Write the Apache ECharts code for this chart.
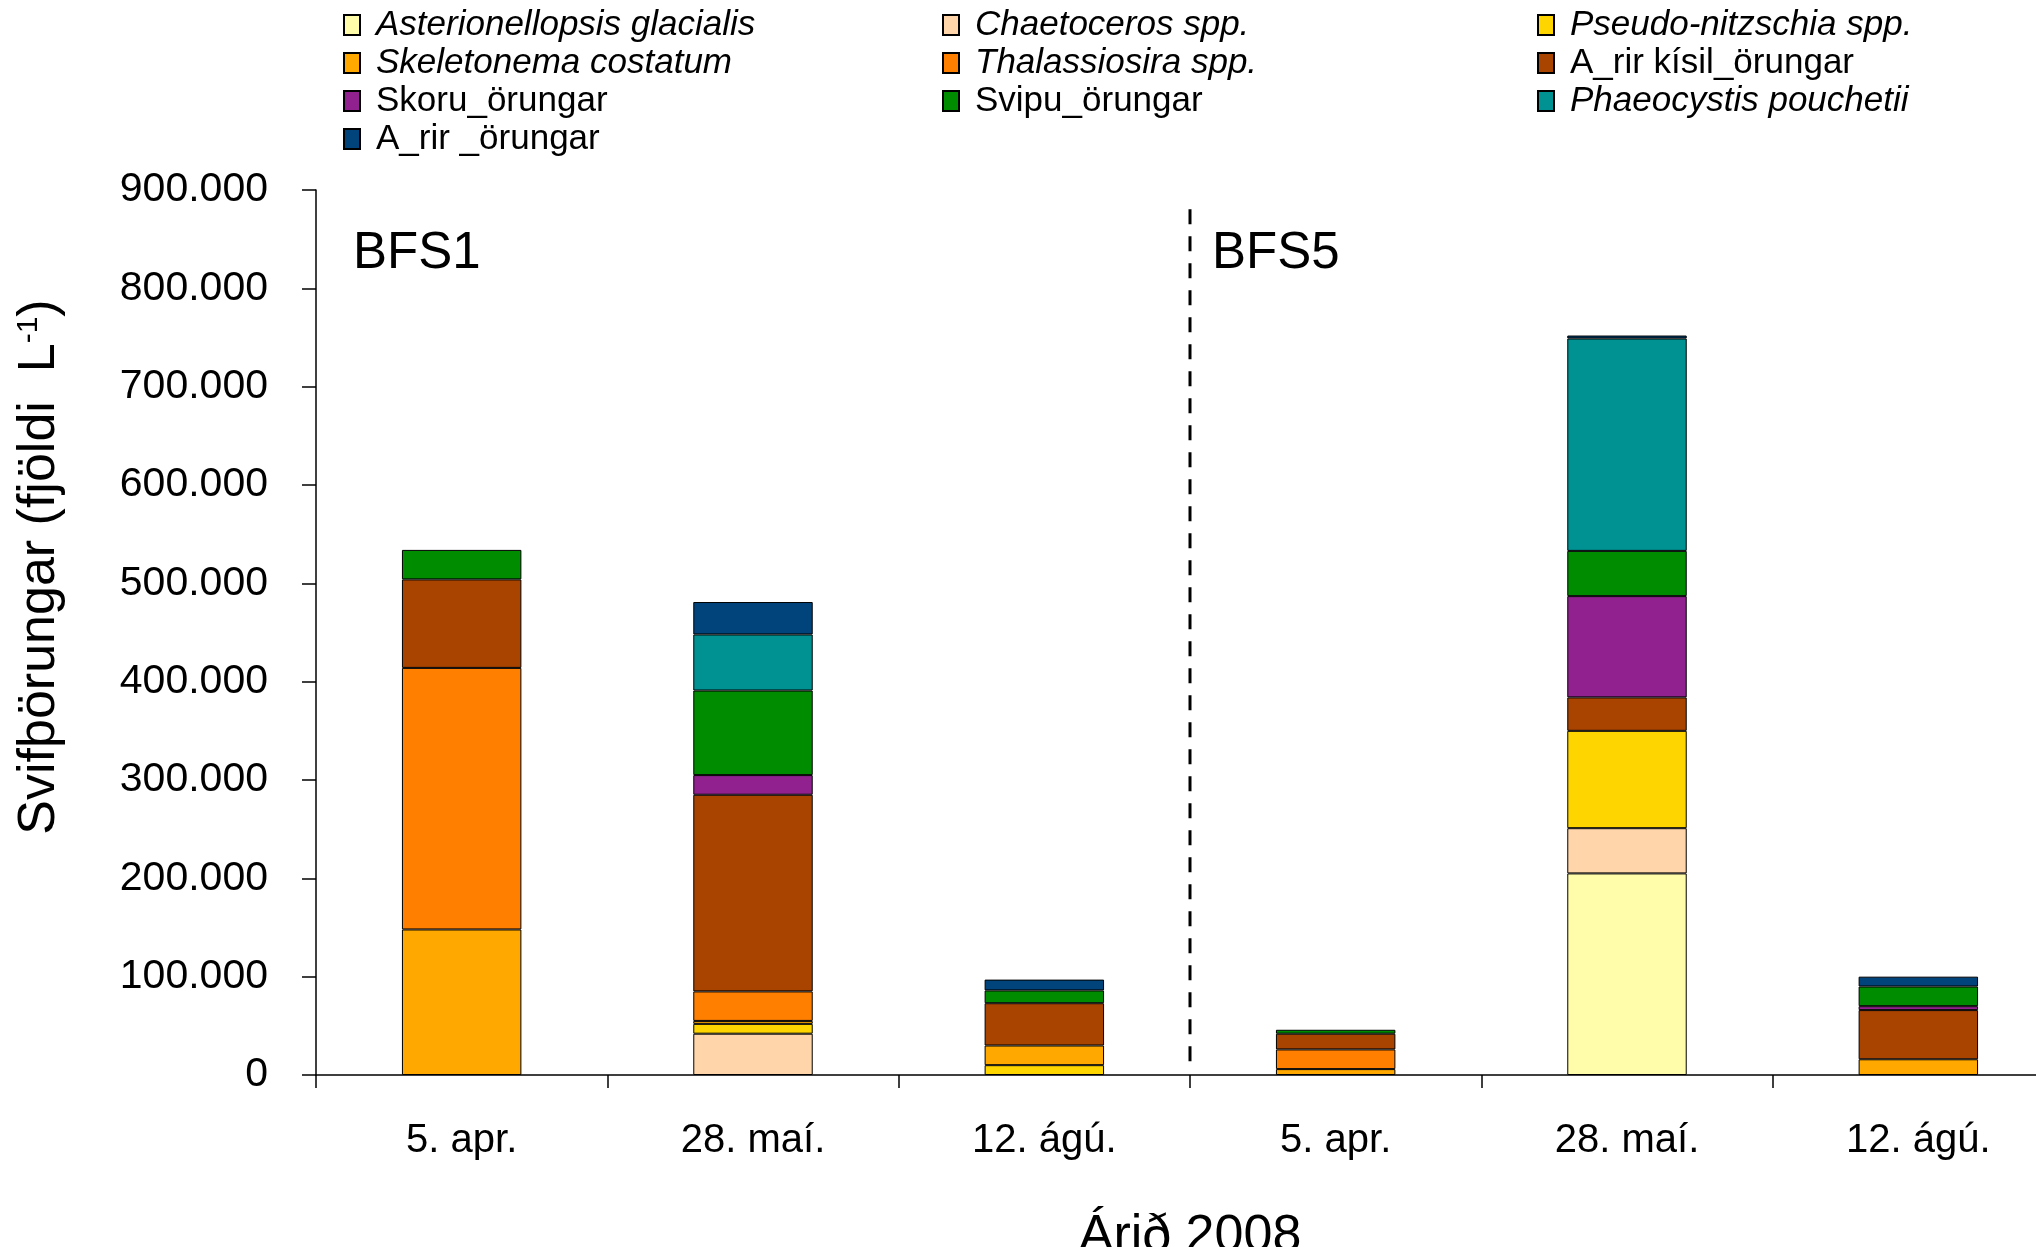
<!DOCTYPE html>
<html>
<head>
<meta charset="utf-8">
<script src="https://cdn.jsdelivr.net/npm/echarts@6/dist/echarts.min.js"></script>
<style>
html,body{margin:0;padding:0;background:#fff;}
#chart{width:2036px;height:1247px;}
</style>
</head>
<body>
<div id="chart"></div>
<script>
// ---- data ----
var categories = ['5. apr.', '28. maí.', '12. ágú.', '5. apr.', '28. maí.', '12. ágú.'];
var yTicks = [0, 100000, 200000, 300000, 400000, 500000, 600000, 700000, 800000, 900000];

var asterionellopsis = [0, 0, 0, 0, 205000, 0];
var chaetoceros      = [0, 42000, 0, 0, 46000, 0];
var pseudoNitzschia  = [0, 10000, 10000, 0, 99000, 0];
var skeletonema      = [148000, 3000, 20000, 6000, 0, 16000];
var thalassiosira    = [266000, 30000, 0, 20000, 0, 0];
var adrirKisil       = [90000, 200000, 43000, 16000, 34000, 50000];
var skoru            = [0, 20000, 0, 0, 103000, 4000];
var svipu            = [30000, 86000, 13000, 4000, 46000, 20000];
var phaeocystis      = [0, 57000, 0, 0, 216000, 0];
var adrir            = [0, 33000, 11000, 0, 3000, 10000];

var seriesNames = ['Asterionellopsis glacialis', 'Chaetoceros spp.', 'Pseudo-nitzschia spp.',
  'Skeletonema costatum', 'Thalassiosira spp.', 'A_rir kísil_örungar', 'Skoru_örungar',
  'Svipu_örungar', 'Phaeocystis pouchetii', 'A_rir _örungar'];
var seriesValues = [asterionellopsis, chaetoceros, pseudoNitzschia, skeletonema, thalassiosira,
  adrirKisil, skoru, svipu, phaeocystis, adrir];
var seriesItalic = [true, true, true, true, true, false, false, false, true, false];
var seriesColors = ['#FFFDAA', '#FFD5A9', '#FFD500', '#FFA800', '#FF7F00', '#A94400',
  '#91218F', '#008C00', '#009292', '#00447B'];

// station divider (between categories 3 and 4)
var dividerLine = [[3, 14000], [3, 883000]];
var stationLabels = ['BFS1', 'BFS5'];

// ---- chart ----
var FONT = '"Liberation Sans", Arial, sans-serif';
var chart = echarts.init(document.getElementById('chart'), null, {renderer: 'canvas'});

var series = seriesNames.map(function (n, i) {
  return {
    name: n,
    type: 'bar',
    stack: 'total',
    xAxisIndex: 0,
    yAxisIndex: 0,
    barWidth: '41%',
    itemStyle: {color: seriesColors[i], borderColor: '#000', borderWidth: 1},
    data: seriesValues[i].map(function (v) { return v === 0 ? '-' : v; })
  };
});
series.push({
  name: 'divider',
  type: 'line',
  xAxisIndex: 1,
  yAxisIndex: 0,
  symbol: 'none',
  silent: true,
  lineStyle: {color: '#000', width: 3, type: [15, 12]},
  data: dividerLine
});

function legendCol(indices, left) {
  return {
    left: left,
    top: 1,
    orient: 'vertical',
    itemGap: 0,
    itemWidth: 16,
    itemHeight: 20,
    icon: 'rect',
    selectedMode: false,
    textStyle: {fontFamily: FONT, fontSize: 35, color: '#000', lineHeight: 38, padding: [0, 0, 0, 11]},
    data: indices.map(function (i) {
      return {name: seriesNames[i], textStyle: {fontStyle: seriesItalic[i] ? 'italic' : 'normal'}};
    })
  };
}

var option = {
  animation: false,
  backgroundColor: '#fff',
  legend: [
    legendCol([0, 3, 6, 9], 338),
    legendCol([1, 4, 7], 937),
    legendCol([2, 5, 8], 1532)
  ],
  grid: {left: 316, top: 190, width: 1748, height: 885, containLabel: false, outerBoundsMode: 'none'},
  xAxis: [{
    type: 'category',
    data: categories,
    axisLine: {lineStyle: {color: '#000', width: 1.5}},
    axisTick: {show: true, length: 13, alignWithLabel: false, lineStyle: {color: '#000', width: 1.5}},
    axisLabel: {color: '#000', fontFamily: FONT, fontSize: 40, margin: 46, interval: 0},
    name: 'Árið 2008',
    nameLocation: 'middle',
    nameGap: 136,
    nameTextStyle: {color: '#000', fontFamily: FONT, fontSize: 52}
  }, {
    type: 'value',
    min: 0,
    max: 6,
    show: false
  }],
  yAxis: [{
    type: 'value',
    min: 0,
    max: yTicks[yTicks.length - 1],
    interval: yTicks[1] - yTicks[0],
    splitLine: {show: false},
    axisLine: {show: true, lineStyle: {color: '#000', width: 1.5}},
    axisTick: {show: true, length: 14, lineStyle: {color: '#000', width: 1.5}},
    axisLabel: {
      color: '#000', fontFamily: FONT, fontSize: 41, margin: 48,
      formatter: function (v) {
        return String(v).replace(/\B(?=(\d{3})+(?!\d))/g, '.');
      }
    }
  }],
  graphic: [
    {
      type: 'text',
      x: 40, y: 567,
      rotation: Math.PI / 2,
      style: {
        text: 'Svifþörungar (fjöldi  L{sup|-1})',
        fill: '#000',
        fontFamily: FONT,
        fontSize: 52,
        align: 'center',
        verticalAlign: 'middle',
        rich: {sup: {fontSize: 30, fontFamily: FONT, fill: '#000', verticalAlign: 'top', lineHeight: 52}}
      }
    },
    {
      type: 'text', x: 353, y: 254,
      style: {text: stationLabels[0], fill: '#000', fontFamily: FONT, fontSize: 51, align: 'left', verticalAlign: 'middle'}
    },
    {
      type: 'text', x: 1212, y: 254,
      style: {text: stationLabels[1], fill: '#000', fontFamily: FONT, fontSize: 51, align: 'left', verticalAlign: 'middle'}
    }
  ],
  series: series
};
chart.setOption(option);
</script>
</body>
</html>
